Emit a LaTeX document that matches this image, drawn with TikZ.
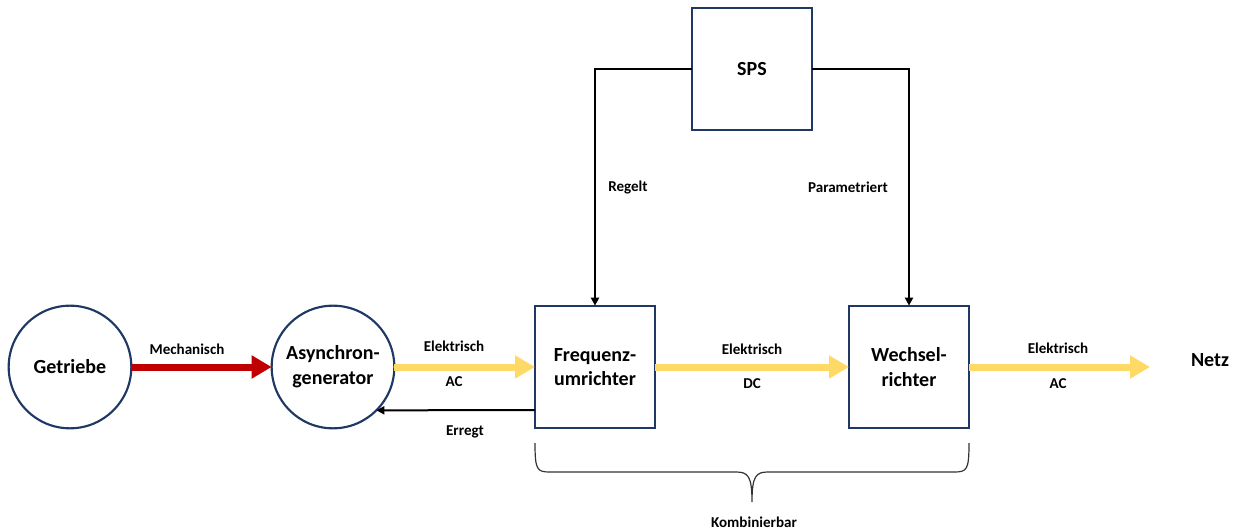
\documentclass[tikz,border=0pt]{standalone}
\usepackage{fontspec}
\setmainfont{Carlito}
\usetikzlibrary{arrows.meta,calc}
\definecolor{navy}{HTML}{1F3864}
\definecolor{flowred}{HTML}{C00000}
\definecolor{flowyellow}{HTML}{FFD966}
\tikzset{
  unit/.style={draw=navy,line width=1.6pt,fill=white,font=\bfseries\fontsize{15}{18.5}\selectfont,align=center,inner sep=0pt,outer sep=0pt},
  circunit/.style={unit,circle,minimum size=92pt},
  boxunit/.style={unit,rectangle,minimum width=90pt,minimum height=92pt},
  lbl/.style={font=\bfseries\fontsize{11.3}{13}\selectfont,inner sep=0pt},
  mechflow/.style={draw=flowred,line width=5.25pt,-{Triangle[length=15pt,width=16.5pt]}},
  elflow/.style={draw=flowyellow,line width=5.25pt,-{Triangle[length=15pt,width=16.5pt]}},
  ctrl/.style={draw=black,line width=1.5pt,-{Triangle[length=6pt,width=6pt]}},
}
\begin{document}
\begin{tikzpicture}[x=0.75pt,y=-0.75pt]
\useasboundingbox (0,0) rectangle (1236,531);

% components
\node[circunit] (gtr) at (70,367) {Getriebe};
\node[circunit] (asg) at (333,367) {Asynchron-\\generator};
\node[boxunit] (fu) at (595,367) {Frequenz-\\umrichter};
\node[boxunit] (wr) at (909,367) {Wechsel-\\richter};
\node[boxunit] (sps) at (752,69) {SPS};
\node[font=\bfseries\fontsize{15}{18}\selectfont,inner sep=0pt] (netz) at (1210,360) {Netz};
\coordinate (netzin) at (1150,367);

% energy flows
\draw[mechflow] (gtr.east) -- (asg.west);
\draw[elflow] (asg.east) -- (fu.west);
\draw[elflow] (fu.east) -- (wr.west);
\draw[elflow] (wr.east) -- (netzin);

% excitation and control signals
\draw[ctrl] ($(fu.west)+(0,43)$) -- (asg.-45);
\draw[ctrl] (sps.west) -| (fu.north);
\draw[ctrl] (sps.east) -| (wr.north);

% labels
\node[lbl] (lmech) at (187,349) {Mechanisch};
\node[lbl] (lel1) at (454,346) {Elektrisch};
\node[lbl] (lac1) at (454,382) {AC};
\node[lbl] (lerr) at (465,432) {Erregt};
\node[lbl] (lel2) at (752,349) {Elektrisch};
\node[lbl] (ldc) at (752,384) {DC};
\node[lbl] (lel3) at (1058,348) {Elektrisch};
\node[lbl] (lac2) at (1058,384) {AC};
\node[lbl] (lreg) at (628,187) {Regelt};
\node[lbl] (lpar) at (848,187) {Parametriert};
\node[lbl] (lkomb) at (754,522) {Kombinierbar};

% brace below converter and inverter
\draw[black!80,line width=0.9pt]
  (535,443) .. controls (535,470) and (537,472) .. (550,472) -- (736,472)
  .. controls (748,472) and (752,476) .. (752,502)
  .. controls (752,476) and (756,472) .. (768,472) -- (954,472)
  .. controls (967,472) and (969,470) .. (969,443);
\end{tikzpicture}
\end{document}
